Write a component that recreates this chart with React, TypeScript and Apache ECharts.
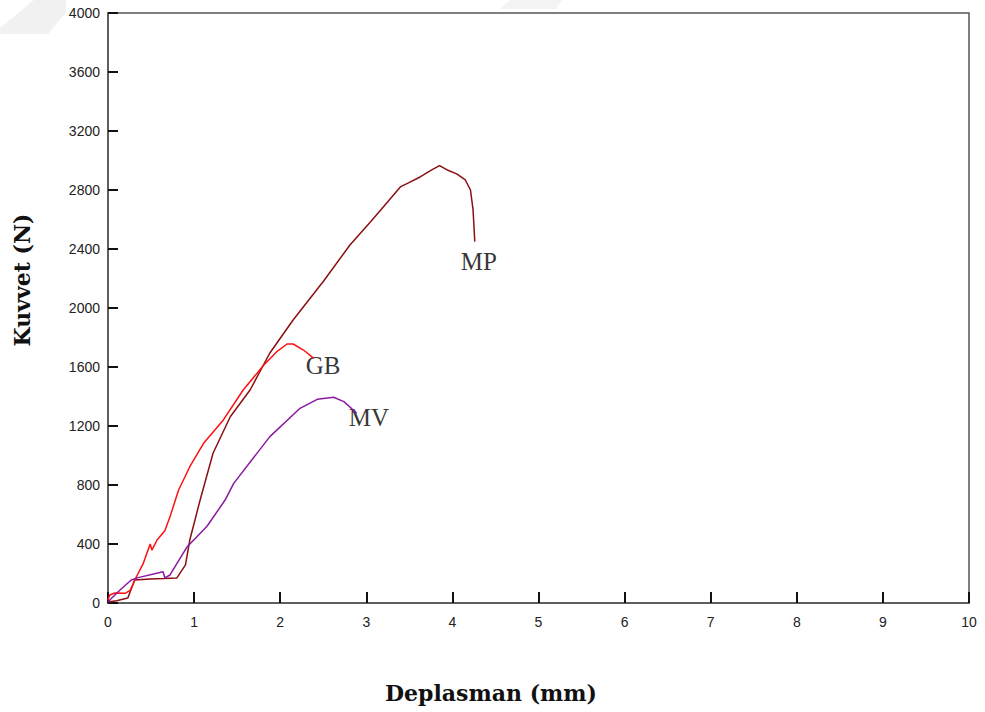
import React, { useEffect, useRef } from "react";
import * as echarts from "echarts";

const mpX = [0, 0.1, 0.23, 0.31, 0.49, 0.65, 0.8, 0.9, 0.95, 1.01, 1.07, 1.22, 1.42, 1.65, 1.88, 2.15, 2.5, 2.81, 3.05, 3.2, 3.4, 3.49, 3.63, 3.76, 3.85, 3.94, 4.05, 4.15, 4.21, 4.24, 4.26];
const mpY = [7, 15, 34, 156, 163, 166, 170, 258, 427, 563, 698, 1015, 1263, 1444, 1695, 1919, 2180, 2427, 2585, 2687, 2823, 2848, 2890, 2936, 2965, 2936, 2909, 2868, 2800, 2665, 2450];

const gbX = [0, 0.02, 0.08, 0.2, 0.26, 0.33, 0.41, 0.49, 0.51, 0.57, 0.66, 0.72, 0.82, 0.95, 1.11, 1.34, 1.57, 1.81, 1.96, 2.08, 2.15, 2.27, 2.39];
const gbY = [20, 54, 68, 66, 88, 178, 269, 400, 359, 427, 490, 585, 766, 924, 1083, 1241, 1444, 1614, 1704, 1756, 1756, 1715, 1659];

const mvX = [0, 0.14, 0.27, 0.35, 0.64, 0.66, 0.72, 0.92, 1.15, 1.36, 1.46, 1.88, 2.23, 2.43, 2.62, 2.74, 2.89];
const mvY = [9, 88, 156, 172, 212, 170, 190, 382, 520, 698, 811, 1128, 1320, 1381, 1395, 1365, 1286];

const labelNames = ["MP", "GB", "MV"];
const labelX = [4.09, 2.29, 2.79];
const labelY = [2312, 1607, 1261];

const xTitle = "Deplasman (mm)";
const yTitle = "Kuvvet (N)";

const zip = (xs: number[], ys: number[]) => xs.map((x, i) => [x, ys[i]]);

export default function App() {
  const ref = useRef<HTMLDivElement>(null);
  useEffect(() => {
    if (!ref.current) return;
    const chart = echarts.init(ref.current, undefined, { renderer: "svg" });
    const tickFont = { color: "#222", fontSize: 14, fontFamily: "'Liberation Sans', Arial, sans-serif" };
    chart.setOption({
      animation: false,
      backgroundColor: "#ffffff",
      grid: {
        left: 108,
        top: 13,
        right: 16,
        bottom: 109,
        show: true,
        borderColor: "#555555",
        borderWidth: 1.5,
        backgroundColor: "transparent",
      },
      graphic: [
        {
          type: "polygon",
          z: -10,
          shape: { points: [[0, 34], [0, 28], [34, 0], [66, 0], [66, 12], [48, 34]] },
          style: { fill: "#f1f1f1" },
        },
        {
          type: "polygon",
          z: -10,
          shape: { points: [[500, 9], [510, 0], [562, 0], [556, 9]] },
          style: { fill: "#f3f3f3" },
        },
        {
          type: "text",
          x: 491,
          y: 693,
          style: {
            text: xTitle,
            align: "center",
            verticalAlign: "middle",
            fill: "#111",
            fontFamily: "DejaVu Serif",
            fontWeight: "bold",
            fontSize: 22,
          },
        },
        {
          type: "text",
          x: 22,
          y: 280,
          rotation: Math.PI / 2,
          style: {
            text: yTitle,
            align: "center",
            verticalAlign: "middle",
            fill: "#111",
            fontFamily: "DejaVu Serif",
            fontWeight: "bold",
            fontSize: 22,
          },
        },
      ],
      xAxis: {
        type: "value",
        min: 0,
        max: 10,
        interval: 1,
        axisLine: { show: true, lineStyle: { color: "#555555", width: 1.5 } },
        axisTick: { show: true, inside: true, length: 11, lineStyle: { color: "#111", width: 2 } },
        axisLabel: { margin: 12, ...tickFont, formatter: (v: number) => String(v) },
        splitLine: { show: false },
      },
      yAxis: {
        type: "value",
        min: 0,
        max: 4000,
        interval: 400,
        axisLine: { show: true, lineStyle: { color: "#555555", width: 1.5 } },
        axisTick: { show: true, inside: true, length: 10, lineStyle: { color: "#111", width: 2 } },
        axisLabel: { margin: 8, ...tickFont, formatter: (v: number) => String(v) },
        splitLine: { show: false },
      },
      series: [
        {
          name: "MP",
          type: "line",
          data: zip(mpX, mpY),
          showSymbol: false,
          symbol: "none",
          lineStyle: { color: "#8b0f12", width: 1.5 },
        },
        {
          name: "GB",
          type: "line",
          data: zip(gbX, gbY),
          showSymbol: false,
          symbol: "none",
          lineStyle: { color: "#ff1010", width: 1.5 },
        },
        {
          name: "MV",
          type: "line",
          data: zip(mvX, mvY),
          showSymbol: false,
          symbol: "none",
          lineStyle: { color: "#8a1aa0", width: 1.5 },
        },
        {
          name: "labels",
          type: "scatter",
          symbolSize: 1,
          itemStyle: { color: "rgba(0,0,0,0)" },
          data: labelNames.map((n, i) => ({ value: [labelX[i], labelY[i]], name: n })),
          label: {
            show: true,
            position: "right",
            distance: 0,
            formatter: (p: any) => p.name,
            color: "#000",
            fontSize: 25,
            fontFamily: "'Liberation Serif', 'Times New Roman', serif",
          },
        },
      ],
    });
    return () => chart.dispose();
  }, []);
  return <div ref={ref} style={{ width: 985, height: 712, position: "absolute", left: 0, top: 0 }} />;
}
